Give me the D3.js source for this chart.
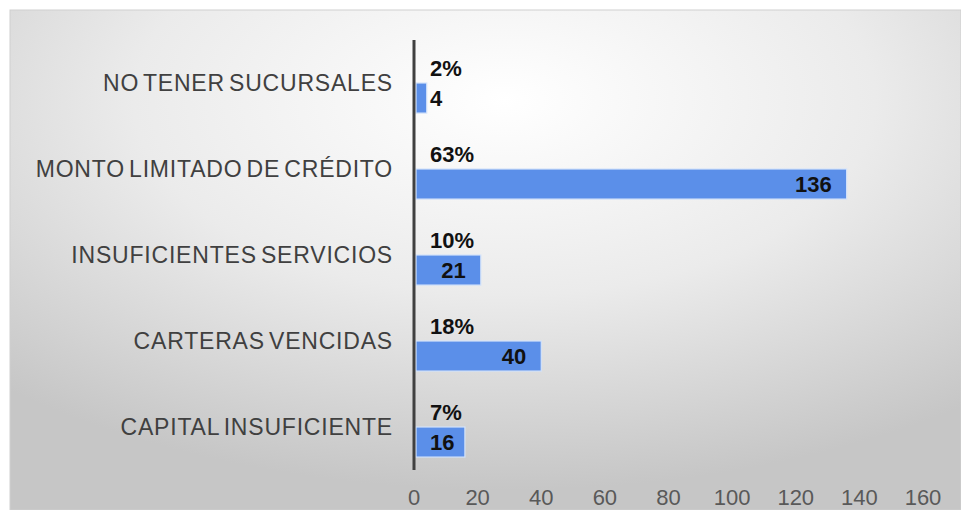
<!DOCTYPE html>
<html>
<head>
<meta charset="utf-8">
<script src="https://cdn.jsdelivr.net/npm/d3@7"></script>
<style>
  html, body { margin: 0; padding: 0; background: #fff; }
  svg { display: block; font-family: "Liberation Sans", Arial, sans-serif; }
</style>
</head>
<body>
<svg id="chart" width="961" height="510"></svg>
<script>
// data
const categories = ["NO TENER SUCURSALES", "MONTO LIMITADO DE CRÉDITO", "INSUFICIENTES SERVICIOS", "CARTERAS VENCIDAS", "CAPITAL INSUFICIENTE"];
const counts = [4, 136, 21, 40, 16];
const percents = [2, 63, 10, 18, 7];
const series = ["pct", "count"];
const xTicks = [0, 20, 40, 60, 80, 100, 120, 140, 160];

const svg = d3.select("#chart");

// background with soft radial gradient
let defs = svg.append("defs");
let grad = defs.append("radialGradient")
    .attr("id", "bg")
    .attr("cx", "52%").attr("cy", "18%")
    .attr("r", "78%")
    .attr("gradientUnits", "objectBoundingBox");
grad.append("stop").attr("offset", "0%").attr("stop-color", "#ffffff");
grad.append("stop").attr("offset", "50%").attr("stop-color", "#ebebeb");
grad.append("stop").attr("offset", "100%").attr("stop-color", "#c6c6c6");

svg.append("rect")
    .attr("x", 10).attr("y", 10)
    .attr("width", 951).attr("height", 500)
    .attr("fill", "url(#bg)")
    .attr("stroke", "#cfcfcf")
    .attr("stroke-width", 1);

// scales
let x = d3.scaleLinear()
    .domain([0, 160])
    .range([414, 923]);

let y = d3.scaleBand()
    .domain(categories)
    .range([40, 470])
    .padding(0);

let sub = d3.scaleBand()
    .domain(series)
    .range([0, y.bandwidth()])
    .paddingInner(0)
    .paddingOuter(0.43);

let rows = categories.map(function(c, i) {
    return { name: c, count: counts[i], pct: percents[i] };
});

// bars (count series only; the percent series has no visible bar)
svg.append("g").selectAll("rect")
    .data(rows)
    .join("rect")
    .attr("x", x(0) + 2)
    .attr("y", function(d) { return y(d.name) + sub("count"); })
    .attr("width", function(d) { return x(d.count) - x(0) - 2; })
    .attr("height", sub.bandwidth())
    .attr("fill", "#5b8fe9")
    .attr("stroke", "#d4e3fa")
    .attr("stroke-width", 1.2);

// axis line
svg.append("line")
    .attr("x1", x(0)).attr("x2", x(0))
    .attr("y1", 40).attr("y2", 470)
    .attr("stroke", "#404040")
    .attr("stroke-width", 3);

// category labels
svg.append("g").selectAll("text")
    .data(rows)
    .join("text")
    .attr("x", 393)
    .attr("y", function(d) { return y(d.name) + y.bandwidth() / 2; })
    .attr("dy", "0.36em")
    .attr("text-anchor", "end")
    .attr("font-size", "23px")
    .attr("letter-spacing", "0.8px")
    .attr("word-spacing", "-3px")
    .attr("fill", "#404040")
    .text(function(d) { return d.name; });

// x tick labels
svg.append("g").selectAll("text")
    .data(xTicks)
    .join("text")
    .attr("x", function(d) { return x(d); })
    .attr("y", 505)
    .attr("text-anchor", "middle")
    .attr("font-size", "22px")
    .attr("fill", "#595959")
    .text(function(d) { return d; });

// percent labels
svg.append("g").selectAll("text")
    .data(rows)
    .join("text")
    .attr("x", x(0) + 16)
    .attr("y", function(d) { return y(d.name) + sub("count") - 7; })
    .attr("font-size", "22px")
    .attr("font-weight", "bold")
    .attr("fill", "#111")
    .text(function(d) { return d.pct + "%"; });

// count labels: inside end, but never closer than 16px to the axis
let countLabels = svg.append("g").selectAll("text")
    .data(rows)
    .join("text")
    .attr("y", function(d) { return y(d.name) + sub("count") + sub.bandwidth() / 2; })
    .attr("dy", "0.36em")
    .attr("text-anchor", "end")
    .attr("font-size", "22px")
    .attr("font-weight", "bold")
    .attr("fill", "#111")
    .text(function(d) { return d.count; });

countLabels.attr("x", function(d) {
    let w = this.getComputedTextLength();
    return Math.max(x(d.count) - 15, x(0) + 16 + w);
});
</script>
</body>
</html>
